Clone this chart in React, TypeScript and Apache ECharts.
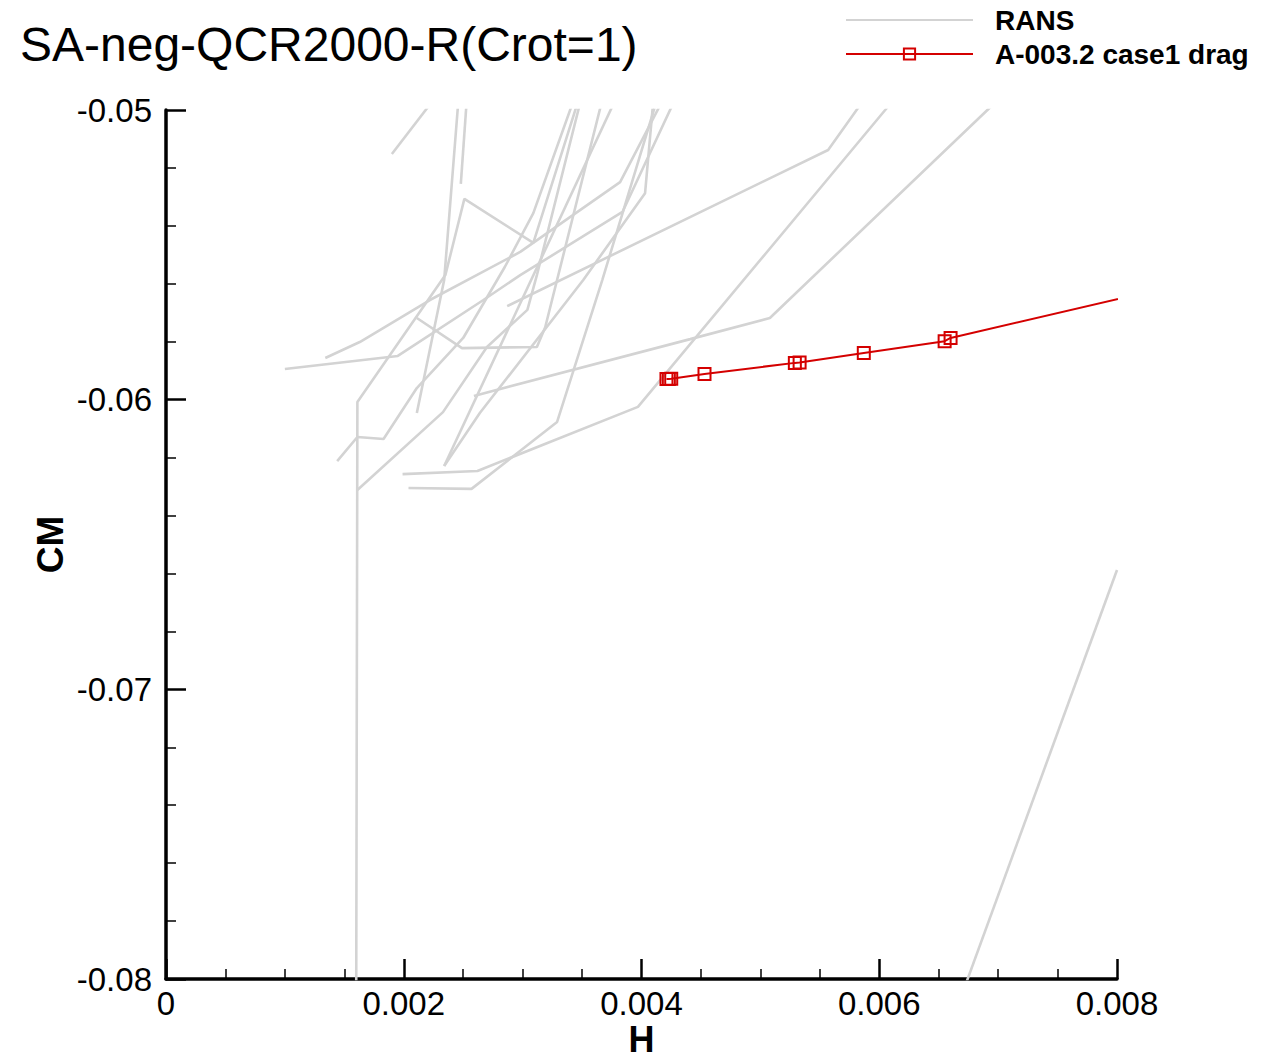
import React, { useEffect, useRef } from "react";
import * as echarts from "echarts";

// ---- axis ranges / ticks ----
const xRange = [0, 0.008];
const xStep = 0.002;
const yRange = [-0.08, -0.05];
const yStep = 0.01;

// ---- RANS reference curves (H, CM) ----
const ransA = [[0.0019, -0.05152], [0.00225, -0.04965]];
const ransB = [[0.00248, -0.05255], [0.00253, -0.04965]];
const ransC = [[0.00211, -0.06046], [0.00234, -0.05587], [0.00246, -0.04965]];
const ransD = [[0.0016, -0.08072], [0.00161, -0.06008], [0.00235, -0.0557], [0.00251, -0.05307], [0.00309, -0.05459], [0.00347, -0.04965]];
const ransE = [[0.00144, -0.06212], [0.00161, -0.06129], [0.00183, -0.06136], [0.00211, -0.0596], [0.0025, -0.05787], [0.00285, -0.05542], [0.00309, -0.05356], [0.00343, -0.04965]];
const ransF = [[0.00161, -0.06312], [0.00233, -0.06043], [0.0027, -0.05818], [0.00304, -0.0569], [0.00312, -0.0557], [0.00349, -0.04965]];
const ransG = [[0.00204, -0.06305], [0.00257, -0.06308], [0.00329, -0.06077], [0.00367, -0.05587], [0.00413, -0.04965]];
const ransH = [[0.00199, -0.06257], [0.00262, -0.06246], [0.00397, -0.06025], [0.00605, -0.05], [0.00612, -0.04965]];
const ransI = [[0.00259, -0.05987], [0.00441, -0.05791], [0.00508, -0.05718], [0.00691, -0.05], [0.007, -0.04965]];
const ransJ = [[0.00287, -0.05677], [0.00557, -0.05138], [0.00587, -0.04965]];
const ransK = [[0.001, -0.05894], [0.00195, -0.05849], [0.00267, -0.05656], [0.00298, -0.0557], [0.00384, -0.05352], [0.00428, -0.04965]];
const ransL = [[0.00134, -0.05856], [0.00163, -0.05801], [0.00222, -0.05656], [0.00298, -0.0549], [0.00382, -0.05249], [0.00418, -0.04965]];
const ransM = [[0.00211, -0.05718], [0.00249, -0.05822], [0.00312, -0.05818], [0.00319, -0.0575], [0.00367, -0.04965]];
const ransQ = [[0.00234, -0.06229], [0.00264, -0.06046], [0.00351, -0.05587], [0.00403, -0.05287], [0.0041, -0.04965]];
const ransR = [[0.00234, -0.06229], [0.00378, -0.04965]];
const ransS = [[0.00661, -0.0815], [0.008, -0.06588]];

const ransCurves = [ransA, ransB, ransC, ransD, ransE, ransF, ransG, ransH, ransI, ransJ, ransK, ransL, ransM, ransQ, ransR, ransS];

// ---- A-003.2 case1 drag ----
const caseH = [0.00421, 0.00423, 0.00425, 0.00453, 0.00529, 0.00533, 0.00587, 0.00655, 0.0066, 0.0083];
const caseCM = [-0.05929, -0.05929, -0.05928, -0.05911, -0.05873, -0.05872, -0.05839, -0.05798, -0.05787, -0.05625];

const FONT = "'Liberation Sans', Arial, Helvetica, sans-serif";
const GRAY = "#d3d3d3";
const RED = "#d40000";

export default function App() {
  const ref = useRef<HTMLDivElement>(null);

  useEffect(() => {
    if (!ref.current) return;
    const chart = echarts.init(ref.current, undefined, { renderer: "svg" });

    const ransSeries = ransCurves.map((d) => ({
      type: "line",
      name: "RANS",
      data: d,
      symbol: "none",
      showSymbol: false,
      clip: true,
      silent: true,
      z: 1,
      lineStyle: { color: GRAY, width: 2.6 },
      itemStyle: { color: GRAY, opacity: 0 },
    }));

    const caseSeries = {
      type: "line",
      name: "A-003.2 case1 drag",
      data: caseH.map((h, i) => [h, caseCM[i]]),
      symbol: "rect",
      symbolSize: 12,
      showAllSymbol: true,
      clip: true,
      z: 3,
      lineStyle: { color: RED, width: 2 },
      itemStyle: { color: "rgba(255,255,255,0)", borderColor: RED, borderWidth: 2 },
    };

    chart.setOption({
      animation: false,
      backgroundColor: "#ffffff",
      title: {
        text: "SA-neg-QCR2000-R(Crot=1)",
        left: 20,
        top: 20,
        padding: 0,
        textStyle: { fontFamily: FONT, fontSize: 48, fontWeight: "normal", color: "#000" },
      },
      legend: {
        data: [
          { name: "RANS", itemStyle: { opacity: 0 } },
          { name: "A-003.2 case1 drag" },
        ],
        orient: "vertical",
        left: 845,
        top: 6,
        padding: 0,
        itemWidth: 127,
        itemHeight: 14,
        itemGap: 6,
        selectedMode: false,
        textStyle: {
          fontFamily: FONT,
          fontSize: 28,
          fontWeight: "bold",
          color: "#000",
          lineHeight: 28,
          padding: [0, 0, 0, 17],
        },
      },
      grid: {
        left: 166,
        right: 145,
        top: 110,
        bottom: 74,
        containLabel: false,
        outerBoundsMode: "none",
      },
      xAxis: {
        type: "value",
        min: xRange[0],
        max: xRange[1],
        interval: xStep,
        name: "H",
        nameLocation: "middle",
        nameGap: 47,
        nameMoveOverlap: false,
        nameTextStyle: { fontFamily: FONT, fontSize: 36, fontWeight: "bold", color: "#000", lineHeight: 26 },
        axisLine: { show: true, onZero: false, lineStyle: { color: "#000", width: 3.5 } },
        axisTick: { show: true, inside: true, length: 20, lineStyle: { color: "#000", width: 2.5 } },
        minorTick: { show: true, splitNumber: 4, length: 10, lineStyle: { color: "#000", width: 1.5 } },
        splitLine: { show: false },
        axisLabel: { fontFamily: FONT, fontSize: 33, lineHeight: 33, color: "#000", margin: 8 },
      },
      yAxis: {
        type: "value",
        min: yRange[0],
        max: yRange[1],
        interval: yStep,
        name: "CM",
        nameLocation: "middle",
        nameGap: 97,
        nameMoveOverlap: false,
        nameRotate: 90,
        nameTextStyle: { fontFamily: FONT, fontSize: 37, fontWeight: "bold", color: "#000" },
        axisLine: { show: true, onZero: false, lineStyle: { color: "#000", width: 3.5 } },
        axisTick: { show: true, inside: true, length: 20, lineStyle: { color: "#000", width: 2.5 } },
        minorTick: { show: true, splitNumber: 5, length: 10, lineStyle: { color: "#000", width: 1.5 } },
        splitLine: { show: false },
        axisLabel: {
          fontFamily: FONT,
          fontSize: 33,
          color: "#000",
          margin: 14,
          formatter: (v: number) => v.toFixed(2),
        },
      },
      series: [...ransSeries, caseSeries],
    });

    return () => chart.dispose();
  }, []);

  return (
    <div
      ref={ref}
      style={{ position: "fixed", left: 0, top: 0, width: 1262, height: 1053, background: "#fff" }}
    />
  );
}
